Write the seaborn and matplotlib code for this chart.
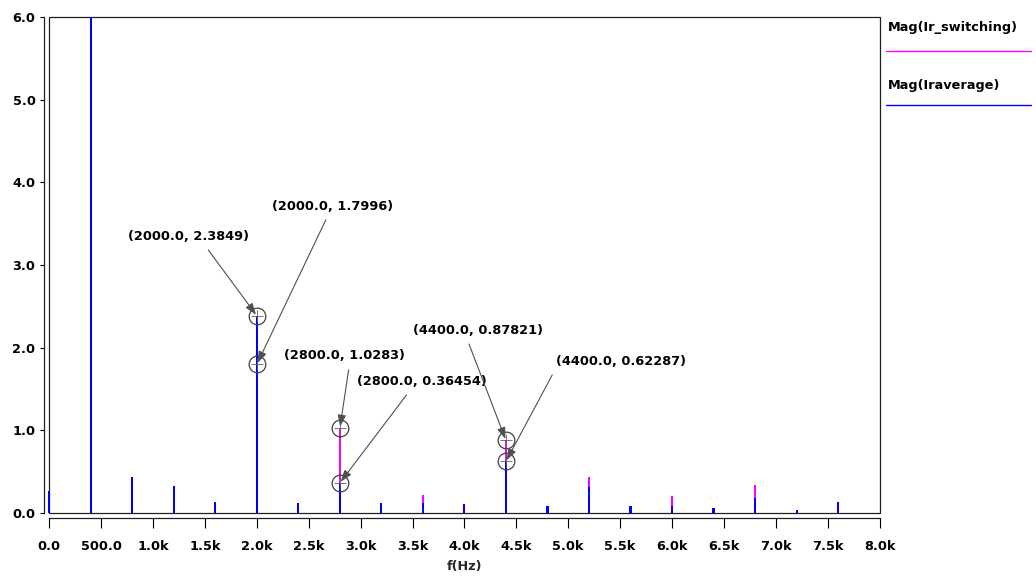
import matplotlib

matplotlib.use('Agg')
import matplotlib.pyplot as plt
import pandas as pd
import seaborn as sns
from matplotlib.lines import Line2D
from matplotlib.patches import Rectangle

# Harmonic spectrum, 400 Hz spacing
freqs = [0, 400, 800, 1200, 1600, 2000, 2400, 2800, 3200, 3600,
         4000, 4400, 4800, 5200, 5600, 6000, 6400, 6800, 7200, 7600]
mag_iraverage = [0.26, 6.0, 0.43, 0.33, 0.13, 2.3849, 0.12, 0.36454, 0.12, 0.12,
                 0.11, 0.62287, 0.08, 0.31, 0.08, 0.09, 0.057, 0.185, 0.03, 0.13]
mag_ir_switching = [0.25, 6.0, 0.40, 0.30, 0.12, 1.7996, 0.11, 1.0283, 0.11, 0.22,
                    0.10, 0.87821, 0.07, 0.44, 0.07, 0.21, 0.05, 0.34, 0.02, 0.12]

x_ticks = [0, 500, 1000, 1500, 2000, 2500, 3000, 3500, 4000, 4500,
           5000, 5500, 6000, 6500, 7000, 7500, 8000]
x_tick_labels = ['0.0', '500.0', '1.0k', '1.5k', '2.0k', '2.5k', '3.0k', '3.5k', '4.0k',
                 '4.5k', '5.0k', '5.5k', '6.0k', '6.5k', '7.0k', '7.5k', '8.0k']
y_ticks = [0, 1, 2, 3, 4, 5, 6]

# marked points: (freq, value, text offset in px, arrow start on text box)
markers = [
    (2000, 2.3849, (-68, 79), (0.62, 0.0)),
    (2000, 1.7996, (76, 158), (0.47, 0.0)),
    (2800, 1.0283, (5, 72), (0.54, 0.0)),
    (2800, 0.36454, (82, 101), (0.42, 0.0)),
    (4400, 0.87821, (-28, 110), (0.41, 0.0)),
    (4400, 0.62287, (115, 100), (0.0, 0.0)),
]

BLUE = '#0000ff'
MAGENTA = '#ff00ff'
FONT = 9.3

sns.set_style('ticks')
plt.rcParams['font.family'] = ['DejaVu Sans']
plt.rcParams['font.weight'] = 'bold'

df = pd.DataFrame({'f': freqs, 'sw': mag_ir_switching, 'avg': mag_iraverage})

fig = plt.figure(figsize=(10.36, 5.82), dpi=100)
ax = fig.add_axes([0.0476, 0.1186, 0.8014, 0.8522])

sns.barplot(data=df, x='f', y='sw', native_scale=True, width=0.05, color=MAGENTA,
            saturation=1, errorbar=None, linewidth=0, ax=ax)
sns.barplot(data=df, x='f', y='avg', native_scale=True, width=0.05, color=BLUE,
            saturation=1, errorbar=None, linewidth=0, ax=ax)
# the 0 Hz line sits on the frame, keep it whole
for bar in ax.patches:
    bar.set_zorder(3)
    bar.set_clip_on(False)

ax.set_xlim(0, 8000)
ax.set_ylim(0, 6)
ax.set_xticks(x_ticks)
ax.set_xticklabels(x_tick_labels)
ax.set_yticks(y_ticks)
ax.set_yticklabels([f'{v:.1f}' for v in y_ticks])
ax.tick_params(axis='x', length=7.5, width=0.8, pad=8.5, labelsize=FONT, colors='black')
ax.tick_params(axis='y', length=3, width=0.8, pad=3, labelsize=FONT, colors='black')
ax.set_xlabel('f(Hz)', fontsize=FONT, fontweight='bold', labelpad=5)
ax.set_ylabel('')

# axis lines sit a few pixels off the plot frame
for side in ['top', 'right']:
    ax.spines[side].set_visible(False)
ax.spines['left'].set_position(('outward', 4))
ax.spines['bottom'].set_position(('outward', 3.6))
for side in ['left', 'bottom']:
    ax.spines[side].set_color('#202020')
    ax.spines[side].set_linewidth(0.9)
ax.add_patch(Rectangle((0, 0), 1, 1, transform=ax.transAxes, fill=False,
                       edgecolor='#202020', linewidth=0.9, clip_on=False, zorder=2))

for f, v, offset, rel in markers:
    ax.plot([f], [v], marker='o', markersize=12, markerfacecolor='none',
            markeredgecolor='#404040', markeredgewidth=0.9, zorder=6)
    ax.plot([f], [v], marker='+', markersize=9, color='#606060',
            markeredgewidth=0.6, zorder=6)
    ax.annotate(f'({f:.1f}, {v})', xy=(f, v), xytext=offset, textcoords='offset pixels',
                ha='center', va='center', fontsize=FONT, fontweight='bold', color='black',
                arrowprops=dict(arrowstyle='-|>,head_length=0.7,head_width=0.25',
                                color='#505050', lw=0.8, relpos=rel,
                                shrinkA=3, shrinkB=1, mutation_scale=10),
                zorder=7)

# legend outside the plot on the right
W, H = 1036, 582
legend_rows = [('Mag(Ir_switching)', MAGENTA, 28, 51), ('Mag(Iraverage)', BLUE, 86, 105)]
for label, color, ty, ly in legend_rows:
    fig.text(888 / W, 1 - ty / H, label, ha='left', va='center', fontsize=FONT,
             fontweight='bold', color='black')
    fig.add_artist(Line2D([886 / W, 1031 / W], [1 - ly / H, 1 - ly / H],
                          transform=fig.transFigure, color=color, lw=1))

fig.savefig('out.png', dpi=100)
